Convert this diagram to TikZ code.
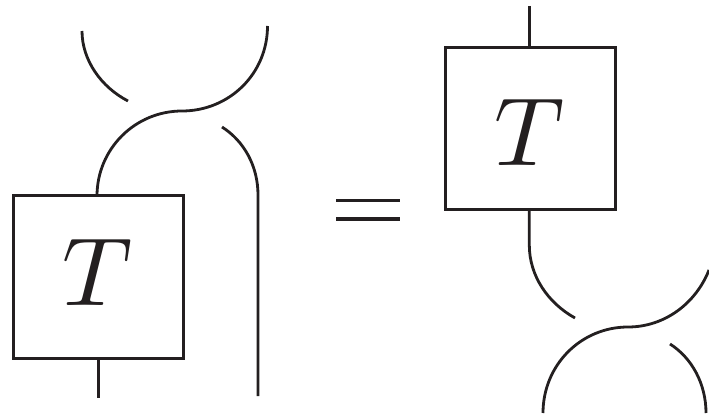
\documentclass[tikz,border=0pt]{standalone}
\definecolor{ink}{HTML}{231F20}
\tikzset{
  strand/.style={line width=2.8pt,ink},
  eqbar/.style={line width=3.4pt,ink},
  tbox/.style={draw=ink,line width=3pt,minimum width=170pt,minimum height=162pt,inner sep=0pt,outer sep=0pt},
  tlabel/.style={scale=9.7,inner sep=0pt,text=ink}
}
\begin{document}
\begin{tikzpicture}[x=1pt,y=-1pt]
\useasboundingbox (0,0) rectangle (709,419);
% left
\node[tbox] (boxL) at (98,277) {};
\node[tlabel] (tL) at (98,272.5) {$T$};
\coordinate (boxLtop) at (97,196);
\coordinate (boxLbot) at (98.4,358);
\coordinate (endLb) at (98.4,398);
\coordinate (endLr) at (267.5,26);
\coordinate (endLa) at (82,31);
\coordinate (endLc) at (128,101);
\coordinate (endLd) at (222,127);
\coordinate (endLe) at (258,195);
\coordinate (endLf) at (258,396);
\draw[strand] (boxLbot) -- (endLb);
\draw[strand] (boxLtop) .. controls (97,149) and (135,111) .. (182,111) .. controls (229,111) and (267.5,74) .. (endLr);
\draw[strand] (endLa) .. controls (82,60) and (101,87) .. (endLc);
\draw[strand] (endLd) .. controls (244,141) and (258,166) .. (endLe) -- (endLf);
% equals
\coordinate (e1a) at (336,200.3);
\coordinate (e1b) at (400,200.3);
\coordinate (e2a) at (336,219);
\coordinate (e2b) at (400,219);
\draw[eqbar] (e1a) -- (e1b);
\draw[eqbar] (e2a) -- (e2b);
% right
\node[tbox] (boxR) at (530,128.4) {};
\node[tlabel] (tR) at (529.5,132) {$T$};
\coordinate (rt) at (529.3,6);
\coordinate (rtb) at (529.3,47);
\coordinate (rb) at (529.3,209);
\coordinate (rc) at (529.3,245);
\coordinate (rd) at (575,318);
\draw[strand] (rt) -- (rtb);
\draw[strand] (rb) -- (rc) .. controls (529.3,276) and (548,303) .. (rd);
\coordinate (sa) at (543,413);
\coordinate (sb) at (628,327);
\coordinate (sc) at (709,270);
\draw[strand] (sa) .. controls (543,365) and (581,327) .. (sb) .. controls (665,327) and (696,303) .. (sc);
\coordinate (ta) at (670,344);
\coordinate (tb) at (706,413);
\draw[strand] (ta) .. controls (692,358) and (706,384) .. (tb);
\end{tikzpicture}
\end{document}
